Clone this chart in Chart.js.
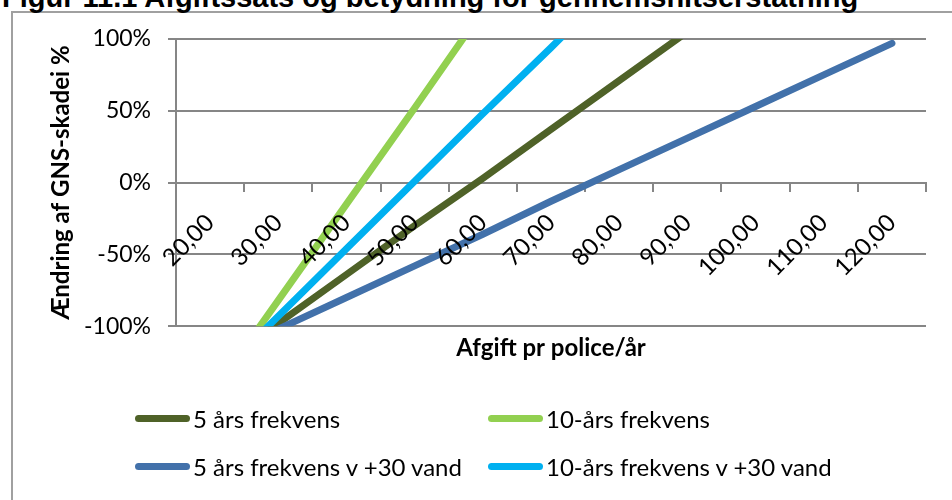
<!DOCTYPE html>
<html>
<head>
<meta charset="utf-8">
<script src="https://cdn.jsdelivr.net/npm/chart.js@4.4.1/dist/chart.umd.min.js"></script>
<style>
  html, body { margin: 0; padding: 0; background: #fff; }
  body { width: 952px; height: 500px; position: relative; overflow: hidden; font-family: Lato, sans-serif; }
  .frame { position: absolute; left: 11px; top: 11px; width: 1000px; height: 600px; border: 2px solid #a0a0a0; box-sizing: border-box; }
  .fig-title { position: absolute; left: 2px; top: -19px; font: bold 29px "Liberation Sans", Arial, sans-serif; white-space: nowrap; color: #000; }
  #chartBox { position: absolute; left: 0; top: 0; width: 952px; height: 500px; }
  #legend { position: absolute; left: 135px; top: 394px; display: grid; grid-template-columns: 353px auto; }
  .leg-item { display: flex; align-items: center; height: 48px; font-size: 24px; color: #000; }
  .leg-line { display: inline-block; width: 55px; height: 7px; border-radius: 4px; margin-right: 3px; }
</style>
</head>
<body>
<div class="frame"></div>
<div class="fig-title">Figur 11.1 Afgiftssats og betydning for gennemsnitserstatning</div>
<div id="chartBox"><canvas id="afgiftChart" width="952" height="500"></canvas></div>
<div id="legend"></div>
<script>
// afgift pr police/år (x categories)
const categories = ['20,00', '30,00', '40,00', '50,00', '60,00', '70,00', '80,00', '90,00', '100,00', '110,00', '120,00']

// ændring af GNS-skade i % (values outside -100..100 are clipped)
const femAar = [-132, -98, -64, -30, 3, 37, 71, 105, 139, 173, 207]
const tiAar = [-149, -82, -15, 52, 120, 187, 254, 321, 388, 455, 522]
const femAarVand = [-124, -102, -80, -58, -36, -13, 9, 31, 53, 75, 97]
const tiAarVand = [-140, -93, -46, 1, 48, 94, 141, 188, 235, 282, 329]

const yMin = -100
const yMax = 100
const yStep = 50

const gridColor = '#868686'
const tickFont = { family: 'Lato', size: 23 }
const xTickFont = { family: 'Lato', size: 24 }
const titleFont = { family: 'Lato', size: 24, weight: 'bold' }

function lineSet(label, data, color, order) {
  return {
    label,
    data,
    borderColor: color,
    backgroundColor: color,
    borderWidth: 7,
    borderCapStyle: 'round',
    pointRadius: 0,
    tension: 0,
    clip: 0,
    order,
  }
}

const htmlLegend = {
  id: 'htmlLegend',
  afterUpdate(chart) {
    const box = document.getElementById('legend')
    box.innerHTML = ''
    chart.data.datasets.forEach((ds) => {
      const item = document.createElement('div')
      item.className = 'leg-item'
      item.innerHTML = `<span class="leg-line" style="background:${ds.borderColor}"></span><span>${ds.label}</span>`
      box.appendChild(item)
    })
  }
}

new Chart(document.getElementById('afgiftChart'), {
  type: 'line',
  data: {
    labels: categories,
    datasets: [
      lineSet('5 års frekvens', femAar, '#4F6228', 3),
      lineSet('10-års frekvens', tiAar, '#92D050', 2),
      lineSet('5 års frekvens v +30 vand', femAarVand, '#4271AA', 1),
      lineSet('10-års frekvens v +30 vand', tiAarVand, '#00B0F0', 0),
    ]
  },
  options: {
    responsive: false,
    animation: false,
    layout: { padding: { top: 39, right: 26, left: 0, bottom: 137 } },
    plugins: {
      legend: { display: false },
      tooltip: { enabled: false }
    },
    scales: {
      x: {
        type: 'category',
        position: { y: 0 },
        offset: true,
        afterFit: (s) => { s.height = 0 },
        grid: { drawOnChartArea: false, offset: true, color: gridColor, lineWidth: 2, tickLength: 8 },
        border: { color: gridColor, width: 2 },
        // z: 1 -> labels sit on top of the lines
        ticks: { z: 1, font: xTickFont, color: '#000', minRotation: 45, maxRotation: 45, autoSkip: false, padding: 18 }
      },
      x2: {
        type: 'category',
        labels: categories,
        position: 'bottom',
        grid: { display: false, drawTicks: false },
        border: { display: false },
        ticks: { display: false },
        title: { display: true, text: 'Afgift pr police/år', font: titleFont, color: '#000', padding: { top: 8, bottom: 0 } }
      },
      y: {
        min: yMin,
        max: yMax,
        afterFit: (s) => { s.width = 176 },
        grid: { color: gridColor, lineWidth: 2, tickLength: 8 },
        border: { color: gridColor, width: 2 },
        ticks: { stepSize: yStep, font: tickFont, color: '#000', padding: 17, callback: (v) => v + '%' },
        title: { display: true, text: 'Ændring af GNS-skadei %', font: titleFont, color: '#000', padding: { top: 47, bottom: 0 } }
      }
    }
  },
  plugins: [htmlLegend]
})
</script>
</body>
</html>
